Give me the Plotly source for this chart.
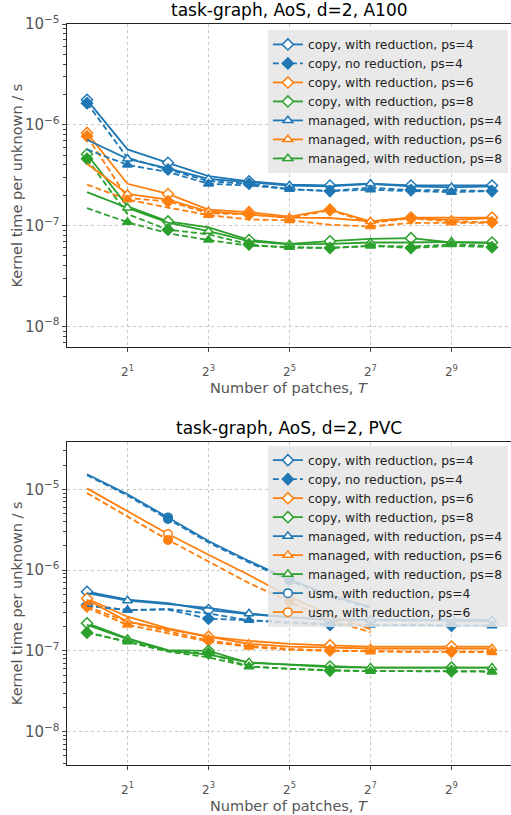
import math
import plotly.graph_objects as go

# ---------------- data ----------------
T = [1, 2, 4, 8, 16, 32, 64, 128, 256, 512, 1024]
T_usm = T[:8]

# A100
a_copy_red_ps4 = [1.77e-6, 5.7e-7, 4.2e-7, 3.1e-7, 2.75e-7, 2.55e-7, 2.5e-7, 2.6e-7, 2.5e-7, 2.5e-7, 2.5e-7]
a_copy_nored_ps4 = [1.64e-6, 4.7e-7, 3.6e-7, 2.75e-7, 2.6e-7, 2.3e-7, 2.2e-7, 2.38e-7, 2.25e-7, 2.25e-7, 2.2e-7]
a_man_red_ps4 = [7.1e-7, 4.6e-7, 3.7e-7, 2.9e-7, 2.7e-7, 2.5e-7, 2.45e-7, 2.6e-7, 2.45e-7, 2.4e-7, 2.45e-7]
a_man_nored_ps4 = [5.7e-7, 4.0e-7, 3.4e-7, 2.6e-7, 2.5e-7, 2.3e-7, 2.2e-7, 2.27e-7, 2.2e-7, 2.15e-7, 2.2e-7]
a_copy_red_ps6 = [8.3e-7, 2.6e-7, 2.06e-7, 1.44e-7, 1.36e-7, 1.23e-7, 1.44e-7, 1.1e-7, 1.2e-7, 1.2e-7, 1.2e-7]
a_copy_nored_ps6 = [7.7e-7, 1.88e-7, 1.74e-7, 1.33e-7, 1.29e-7, 1.19e-7, 1.42e-7, 1.06e-7, 1.18e-7, 1.1e-7, 1.08e-7]
a_man_red_ps6 = [4.1e-7, 2.06e-7, 1.81e-7, 1.38e-7, 1.29e-7, 1.2e-7, 1.19e-7, 1.1e-7, 1.19e-7, 1.14e-7, 1.19e-7]
a_man_nored_ps6 = [2.55e-7, 1.81e-7, 1.51e-7, 1.27e-7, 1.15e-7, 1.13e-7, 1.02e-7, 9.8e-8, 1.06e-7, 1.07e-7, 1.06e-7]
a_copy_red_ps8 = [5.1e-7, 1.55e-7, 1.1e-7, 9.6e-8, 7.2e-8, 6.6e-8, 7.0e-8, 7.4e-8, 7.5e-8, 6.8e-8, 6.8e-8]
a_copy_nored_ps8 = [4.6e-7, 1.3e-7, 9.1e-8, 8.2e-8, 6.5e-8, 6.0e-8, 6.0e-8, 6.3e-8, 6.0e-8, 6.3e-8, 6.1e-8]
a_man_red_ps8 = [2.15e-7, 1.5e-7, 1.07e-7, 8.8e-8, 7.0e-8, 6.5e-8, 6.6e-8, 6.8e-8, 6.8e-8, 6.9e-8, 6.7e-8]
a_man_nored_ps8 = [1.49e-7, 1.08e-7, 8.4e-8, 7.2e-8, 6.3e-8, 6.1e-8, 6.0e-8, 6.3e-8, 6.2e-8, 6.5e-8, 6.3e-8]

# PVC
p_copy_red_ps4 = [5.4e-7, 4.3e-7, 3.9e-7, 3.2e-7, 2.85e-7, 2.6e-7, 2.4e-7, 2.4e-7, 2.4e-7, 2.4e-7, 2.35e-7]
p_copy_nored_ps4 = [3.7e-7, 3.2e-7, 3.25e-7, 2.5e-7, 2.4e-7, 2.2e-7, 2.1e-7, 2.1e-7, 2.1e-7, 2.05e-7, 2.05e-7]
p_man_red_ps4 = [5.2e-7, 4.2e-7, 3.8e-7, 3.4e-7, 2.9e-7, 2.6e-7, 2.45e-7, 2.4e-7, 2.4e-7, 2.4e-7, 2.4e-7]
p_man_nored_ps4 = [3.6e-7, 3.2e-7, 3.3e-7, 2.9e-7, 2.4e-7, 2.25e-7, 2.15e-7, 2.1e-7, 2.1e-7, 2.05e-7, 2.05e-7]
p_copy_red_ps6 = [4.45e-7, 2.65e-7, 1.9e-7, 1.5e-7, 1.33e-7, 1.22e-7, 1.17e-7, 1.13e-7, 1.13e-7, 1.13e-7, 1.13e-7]
p_copy_nored_ps6 = [3.55e-7, 2.3e-7, 1.75e-7, 1.35e-7, 1.15e-7, 1.06e-7, 1.01e-7, 9.9e-8, 9.8e-8, 9.8e-8, 9.8e-8]
p_man_red_ps6 = [4.3e-7, 2.3e-7, 1.85e-7, 1.5e-7, 1.22e-7, 1.13e-7, 1.1e-7, 1.07e-7, 1.07e-7, 1.07e-7, 1.07e-7]
p_man_nored_ps6 = [3.4e-7, 2.1e-7, 1.65e-7, 1.3e-7, 1.12e-7, 1.03e-7, 1.0e-7, 9.8e-8, 9.7e-8, 9.7e-8, 9.6e-8]
p_copy_red_ps8 = [2.2e-7, 1.43e-7, 1.02e-7, 1.0e-7, 7.1e-8, 6.8e-8, 6.4e-8, 6.2e-8, 6.2e-8, 6.2e-8, 6.2e-8]
p_copy_nored_ps8 = [1.68e-7, 1.3e-7, 1.0e-7, 9.3e-8, 6.4e-8, 6.0e-8, 5.7e-8, 5.6e-8, 5.6e-8, 5.6e-8, 5.6e-8]
p_man_red_ps8 = [2.1e-7, 1.4e-7, 1.0e-7, 9.0e-8, 7.2e-8, 6.8e-8, 6.3e-8, 6.2e-8, 6.2e-8, 6.1e-8, 6.2e-8]
p_man_nored_ps8 = [1.7e-7, 1.3e-7, 9.8e-8, 8.3e-8, 6.4e-8, 6.0e-8, 5.8e-8, 5.6e-8, 5.6e-8, 5.5e-8, 5.5e-8]
p_usm_red_ps4 = [1.54e-5, 8.7e-6, 4.5e-6, 2.3e-6, 1.3e-6, 7.7e-7, 4.9e-7, 3.5e-7]
p_usm_nored_ps4 = [1.5e-5, 8.4e-6, 4.3e-6, 2.2e-6, 1.25e-6, 7.4e-7, 4.7e-7, 3.4e-7]
p_usm_red_ps6 = [1.03e-5, 5.4e-6, 2.8e-6, 1.55e-6, 8.7e-7, 4.7e-7, 2.8e-7, 1.86e-7]
p_usm_nored_ps6 = [9.0e-6, 4.6e-6, 2.37e-6, 1.28e-6, 6.9e-7, 4.07e-7, 2.4e-7, 1.7e-7]

titles = ["task-graph, AoS, d=2, A100", "task-graph, AoS, d=2, PVC"]
x_title = "Number of patches, <i>T</i>"
y_title = "Kernel time per unknown / s"
x_tickvals = [2, 8, 32, 128, 512]
x_ticktext = ["2<sup>1</sup>", "2<sup>3</sup>", "2<sup>5</sup>", "2<sup>7</sup>", "2<sup>9</sup>"]

BLUE, ORANGE, GREEN = "#1f77b4", "#ff7f0e", "#2ca02c"
FONT = "DejaVu Sans"
LW = 1.8
DASH = "6px,3px"
SYM = {"copy": ("diamond", 8.5), "managed": ("triangle-up", 8.5), "usm": ("circle", 8.5)}

fig = go.Figure()


def add_series(x, y, color, filled, kind, start, step, xa, ya):
    dash = "solid" if not filled else DASH
    fig.add_trace(go.Scatter(x=x, y=y, mode="lines", xaxis=xa, yaxis=ya,
                             line=dict(color=color, width=LW, dash=dash),
                             showlegend=False, hoverinfo="skip"))
    sym, size = SYM[kind]
    fig.add_trace(go.Scatter(x=x[start::step], y=y[start::step], mode="markers",
                             xaxis=xa, yaxis=ya, showlegend=False, hoverinfo="skip",
                             marker=dict(symbol=sym, size=size,
                                         color=color if filled else "white",
                                         line=dict(color=color, width=1.5))))


def add_legend(name, color, filled, kind, xa, ya, leg):
    sym, size = SYM[kind]
    fig.add_trace(go.Scatter(x=[None], y=[None], mode="lines+markers", name=name,
                             xaxis=xa, yaxis=ya, legend=leg,
                             line=dict(color=color, width=LW, dash="solid" if not filled else DASH),
                             marker=dict(symbol=sym, size=size,
                                         color=color if filled else "white",
                                         line=dict(color=color, width=1.5))))


# ---- top: A100 (markers every 2nd point) ----
top = [
    (a_copy_red_ps4, BLUE, False, "copy"), (a_copy_nored_ps4, BLUE, True, "copy"),
    (a_copy_red_ps6, ORANGE, False, "copy"), (a_copy_nored_ps6, ORANGE, True, "copy"),
    (a_copy_red_ps8, GREEN, False, "copy"), (a_copy_nored_ps8, GREEN, True, "copy"),
    (a_man_red_ps4, BLUE, False, "managed"), (a_man_nored_ps4, BLUE, True, "managed"),
    (a_man_red_ps6, ORANGE, False, "managed"), (a_man_nored_ps6, ORANGE, True, "managed"),
    (a_man_red_ps8, GREEN, False, "managed"), (a_man_nored_ps8, GREEN, True, "managed"),
]
offs_top = {"copy": 0, "managed": 1}
for y, c, f, k in top:
    add_series(T, y, c, f, k, offs_top[k], 2, "x", "y")

# ---- bottom: PVC (markers every 3rd point) ----
bot = [
    (p_copy_red_ps4, BLUE, False, "copy"), (p_copy_nored_ps4, BLUE, True, "copy"),
    (p_copy_red_ps6, ORANGE, False, "copy"), (p_copy_nored_ps6, ORANGE, True, "copy"),
    (p_copy_red_ps8, GREEN, False, "copy"), (p_copy_nored_ps8, GREEN, True, "copy"),
    (p_man_red_ps4, BLUE, False, "managed"), (p_man_nored_ps4, BLUE, True, "managed"),
    (p_man_red_ps6, ORANGE, False, "managed"), (p_man_nored_ps6, ORANGE, True, "managed"),
    (p_man_red_ps8, GREEN, False, "managed"), (p_man_nored_ps8, GREEN, True, "managed"),
]
offs_bot = {"copy": 0, "managed": 1, "usm": 2}
for y, c, f, k in bot:
    add_series(T, y, c, f, k, offs_bot[k], 3, "x2", "y2")
for y, c, f in [(p_usm_red_ps4, BLUE, False), (p_usm_nored_ps4, BLUE, True),
                (p_usm_red_ps6, ORANGE, False), (p_usm_nored_ps6, ORANGE, True)]:
    add_series(T_usm, y, c, f, "usm", 2, 3, "x2", "y2")

legend_entries = [
    ("copy, with reduction, ps=4", BLUE, False, "copy"),
    ("copy, no reduction, ps=4", BLUE, True, "copy"),
    ("copy, with reduction, ps=6", ORANGE, False, "copy"),
    ("copy, with reduction, ps=8", GREEN, False, "copy"),
    ("managed, with reduction, ps=4", BLUE, False, "managed"),
    ("managed, with reduction, ps=6", ORANGE, False, "managed"),
    ("managed, with reduction, ps=8", GREEN, False, "managed"),
]
for n, c, f, k in legend_entries:
    add_legend(n, c, f, k, "x", "y", "legend")
for n, c, f, k in legend_entries + [("usm, with reduction, ps=4", BLUE, False, "usm"),
                                    ("usm, with reduction, ps=6", ORANGE, False, "usm")]:
    add_legend(n, c, f, k, "x2", "y2", "legend2")

# ---------------- layout ----------------
L2 = math.log10(2)
xrange_ = [-0.494 * L2, 10.47 * L2]
TICKC = "#444"
GRIDC = "#c8c8c8"
LABELC = "#555"


def xaxis(anchor):
    return dict(type="log", range=xrange_, anchor=anchor, domain=[0, 1],
                tickmode="array", tickvals=x_tickvals, ticktext=x_ticktext,
                ticks="outside", ticklen=4, tickcolor=TICKC, tickwidth=1,
                ticklabelstandoff=9,
                showgrid=True, gridcolor=GRIDC, griddash="dot", gridwidth=1,
                showline=True, linecolor="#222", linewidth=1.2, mirror=True,
                tickfont=dict(family=FONT, size=12, color=LABELC),
                zeroline=False)


def yaxis(anchor, domain, rng):
    return dict(type="log", range=rng, anchor=anchor, domain=domain,
                tickmode="linear", tick0=0, dtick=1, exponentformat="power",
                showexponent="all",
                ticks="outside", ticklen=4, tickcolor=TICKC, tickwidth=1,
                minor=dict(ticks="outside", ticklen=2.5, tickcolor=TICKC, dtick="D1",
                           showgrid=False),
                showgrid=True, gridcolor=GRIDC, griddash="dot", gridwidth=1,
                showline=True, linecolor="#222", linewidth=1.2, mirror=False,
                tickfont=dict(family=FONT, size=12, color=LABELC),
                zeroline=False)


legend_style = dict(bgcolor="rgba(229,229,229,0.85)", borderwidth=0,
                    font=dict(family=FONT, size=12.3, color="#222"),
                    xanchor="right", yanchor="top", tracegroupgap=0,
                    itemwidth=30)

annotations = []
for i, (yd, xd) in enumerate([("y domain", "x domain"), ("y2 domain", "x2 domain")]):
    annotations.append(dict(text=titles[i], x=0.5, y=1.0, xref="paper", yref=yd,
                            xanchor="center", yanchor="bottom", yshift=2, showarrow=False,
                            font=dict(family=FONT, size=17, color="black")))
    annotations.append(dict(text=x_title, x=0.5, y=-0.127, xref=xd, yref=yd,
                            xanchor="center", yanchor="middle", showarrow=False,
                            font=dict(family=FONT, size=14.5, color=LABELC)))
    annotations.append(dict(text=y_title, x=-0.113, y=0.5, xref=xd, yref=yd,
                            xanchor="center", yanchor="middle", textangle=-90,
                            showarrow=False,
                            font=dict(family=FONT, size=14.5, color=LABELC)))

fig.update_layout(
    width=511, height=815,
    margin=dict(l=67, r=0, t=24, b=50),
    paper_bgcolor="white", plot_bgcolor="white",
    font=dict(family=FONT, color="#222"),
    xaxis=xaxis("y"),
    yaxis=yaxis("x", [0.5636, 1.0], [-8.208, -5.0]),
    xaxis2=xaxis("y2"),
    yaxis2=yaxis("x2", [0.0, 0.4364], [-8.414, -4.408]),
    legend=dict(x=0.993, y=0.992, **legend_style),
    legend2=dict(x=0.993, y=0.431, **legend_style),
    annotations=annotations,
)

fig.write_html("out.html", config={"displayModeBar": False},
               post_script="document.body.style.margin='0';document.body.style.overflow='hidden';")
